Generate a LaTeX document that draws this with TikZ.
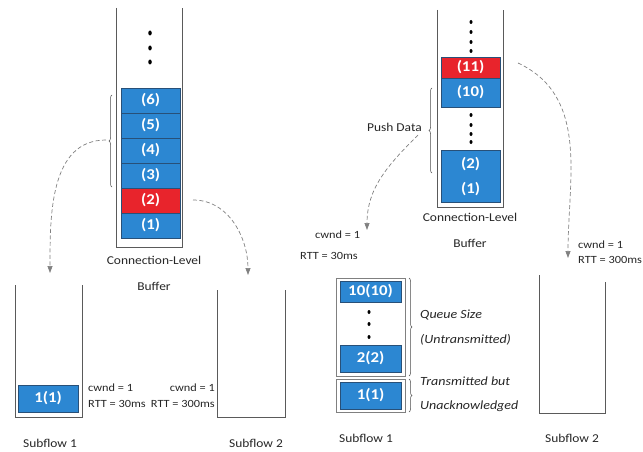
\documentclass[tikz,border=0pt]{standalone}
\usepackage{fontspec}
\setmainfont{Carlito}[FakeStretch=1.12]
\usetikzlibrary{arrows.meta,decorations.pathreplacing,shapes.geometric}
\definecolor{blk}{RGB}{44,135,210}
\definecolor{blkline}{RGB}{40,80,120}
\definecolor{redblk}{RGB}{232,36,44}
\definecolor{wall}{RGB}{90,90,90}
\tikzset{
  box/.style={fill=blk,draw=blkline,line width=0.5pt,inner sep=0pt,text=white,font=\fontsize{15}{15}\selectfont\bfseries},
  redbox/.style={box,fill=redblk},
  wallline/.style={draw=wall,line width=1pt},
  thinline/.style={draw=gray,line width=0.6pt},
  dotmark/.style={fill=black,ellipse,inner sep=0pt,minimum width=3.5pt,minimum height=5pt},
  sdot/.style={dotmark,minimum width=3pt,minimum height=4pt},
  lbl/.style={inner sep=0pt,font=\fontsize{12}{12}\selectfont,text=black!85},
  slbl/.style={lbl,font=\fontsize{11}{11}\selectfont},
  ilbl/.style={lbl,font=\fontsize{12.5}{12.5}\selectfont\itshape},
  flow/.style={draw=gray,line width=0.7pt,dash pattern=on 4pt off 2.5pt,-{Triangle[length=7pt,width=5pt]}},
  brc/.style={draw=black!70,line width=0.5pt,decorate,decoration={brace,amplitude=3pt}}
}
\begin{document}
\begin{tikzpicture}[x=1pt,y=-1pt]
\useasboundingbox (0,0) rectangle (643,452);
% ---------- left panel: connection-level buffer
\draw[wallline] (116,8) -- (116,247) -- (182,247) -- (182,8);
\node[box,minimum width=59pt,minimum height=25pt] (l6) at (150.5,100.5) {(6)};
\node[box,minimum width=59pt,minimum height=25pt] (l5) at (150.5,125.5) {(5)};
\node[box,minimum width=59pt,minimum height=25pt] (l4) at (150.5,150.5) {(4)};
\node[box,minimum width=59pt,minimum height=25pt] (l3) at (150.5,175.5) {(3)};
\node[redbox,minimum width=59pt,minimum height=25pt] (l2) at (150.5,200.5) {(2)};
\node[box,minimum width=59pt,minimum height=25pt] (l1) at (150.5,225.5) {(1)};
\node[dotmark] (ld1) at (150,33) {};
\node[dotmark] (ld2) at (150,48) {};
\node[dotmark] (ld3) at (150,62) {};
\draw[brc] (112,187) -- (112,95);
\coordinate (lbs) at (106,140);
\node[lbl] (lcl) at (154,260) {Connection-Level};
\node[lbl] (lbuf) at (154,286) {Buffer};
% left subflows
\draw[wallline] (15,285) -- (15,417) -- (82,417) -- (82,285);
\node[box,minimum width=60pt,minimum height=27pt] (ls1) at (48,398.5) {1(1)};
\draw[wallline] (217,290) -- (217,417) -- (285,417) -- (285,290);
\node[slbl,anchor=west] (lcw1) at (88,388) {cwnd = 1};
\node[slbl,anchor=west] (lrt1) at (88,404) {RTT = 30ms};
\node[slbl,anchor=east] (lcw2) at (215,388) {cwnd = 1};
\node[slbl,anchor=east] (lrt2) at (215,404) {RTT = 300ms};
\node[lbl] (lsf1) at (50,443) {Subflow 1};
\node[lbl] (lsf2) at (256,443) {Subflow 2};
\coordinate (la1) at (50,273);
\coordinate (l2s) at (193,200);
\coordinate (la2) at (248,275);
\draw[flow] (lbs) to[out=180,in=90] (la1);
\draw[flow] (l2s) to[out=0,in=90] (la2);
% ---------- right panel: connection-level buffer
\draw[wallline] (437,10) -- (437,207) -- (503,207) -- (503,10);
\node[redbox,minimum width=59pt,minimum height=21pt] (r11) at (470.5,67.5) {(11)};
\node[box,minimum width=59pt,minimum height=29pt] (r10) at (470.5,92.5) {(10)};
\node[box,minimum width=59pt,minimum height=52pt] (r21) at (470.5,176) {};
\node[box,draw=none,fill=none] (r2) at (470.5,164) {(2)};
\node[box,draw=none,fill=none] (r1) at (470.5,189) {(1)};
\node[sdot] (rd1) at (471,22) {};
\node[sdot] (rd2) at (471,32) {};
\node[sdot] (rd3) at (471,42) {};
\node[sdot] (rd4) at (471,51) {};
\node[sdot] (rd5) at (471,115) {};
\node[sdot] (rd6) at (471,125) {};
\node[sdot] (rd7) at (471,134) {};
\node[sdot] (rd8) at (471,142) {};
\draw[brc] (432,173) -- (432,88);
\node[lbl,anchor=east] (push) at (422,127) {Push Data};
\node[lbl] (rcl) at (470,217) {Connection-Level};
\node[lbl] (rbuf) at (470,243) {Buffer};
% right subflow 1
\draw[thinline] (336,278) rectangle (405,376);
\draw[thinline] (336,379) rectangle (405,412);
\node[box,minimum width=61pt,minimum height=21pt] (rq10) at (370.5,291.5) {10(10)};
\node[box,minimum width=61pt,minimum height=27pt] (rq2) at (370.5,358.5) {2(2)};
\node[box,minimum width=61pt,minimum height=27pt] (rq1) at (370.5,395.5) {1(1)};
\node[sdot] (qd1) at (369,312) {};
\node[sdot] (qd2) at (369,324) {};
\node[sdot] (qd3) at (369,337) {};
\draw[brc] (409,278) -- (409,376);
\draw[brc] (409,379) -- (409,412);
\node[ilbl,anchor=west] (qs) at (420,315) {Queue Size};
\node[ilbl,anchor=west] (qu) at (420,340) {(Untransmitted)};
\node[ilbl,anchor=west] (tb) at (420,381) {Transmitted but};
\node[ilbl,anchor=west] (ua) at (420,406) {Unacknowledged};
\node[slbl,anchor=west] (rcw1) at (315,235) {cwnd = 1};
\node[slbl,anchor=west] (rrt1) at (300,256) {RTT = 30ms};
\node[lbl] (rsf1) at (366,438) {Subflow 1};
% right subflow 2
\draw[wallline] (539,275) -- (539,413) -- (605,413) -- (605,282);
\node[slbl,anchor=west] (rcw2) at (578,245) {cwnd = 1};
\node[slbl,anchor=west] (rrt2) at (578,260) {RTT = 300ms};
\node[lbl] (rsf2) at (572,438) {Subflow 2};
\coordinate (rps) at (418,135);
\coordinate (ra1) at (367,230);
\coordinate (r2s) at (518,63);
\coordinate (ra2) at (568,258);
\draw[flow] (rps) to[out=225,in=90] (ra1);
\draw[flow] (r2s) to[out=-25,in=90] (ra2);
\end{tikzpicture}
\end{document}
